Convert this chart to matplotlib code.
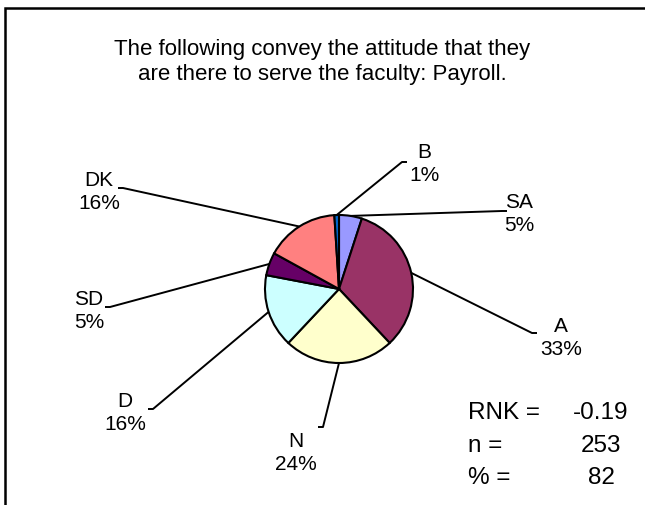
import numpy as np
import matplotlib
matplotlib.use("Agg")
from matplotlib import pyplot as plt

plt.rcParams['font.family'] = ['Liberation Sans', 'DejaVu Sans']

# dados (ordem horaria a partir do topo)
categorias = ['SA', 'A', 'N', 'D', 'SD', 'DK', 'B']
percentuais = [5, 33, 24, 16, 5, 16, 1]
cores = ['#9999FF', '#993366', '#FFFFCC', '#CCFFFF', '#660066', '#FF8080', '#0066CC']
titulo = 'The following convey the attitude that they\nare there to serve the faculty: Payroll.'
estat_rotulos = ['RNK =', 'n =', '% =']
estat_valores = ['-0.19', '253', '82']

# posicoes dos rotulos (pixels) e fim das linhas guia
pos_rotulo = {'SA': (519, 214), 'A': (561, 338), 'N': (296, 453), 'D': (125, 413),
              'SD': (89, 311), 'DK': (99, 192), 'B': (424, 164)}
fim_linha = {'SA': (502, 212), 'A': (532, 334), 'N': (323, 428), 'D': (153, 410),
             'SD': (110, 308), 'DK': (123, 189), 'B': (402, 163)}

W, H = 645, 506
fig = plt.figure(figsize=(W / 100, H / 100), dpi=100)
ax = fig.add_axes([0, 0, 1, 1])

centro = (339, 290)
raio = 74
wedges, _ = ax.pie(percentuais, colors=cores, startangle=-90, counterclock=True,
                   center=centro, radius=raio,
                   wedgeprops=dict(edgecolor='black', linewidth=1.5))
ax.set_xlim(0, W)
ax.set_ylim(H, 0)
ax.set_aspect('equal')
ax.axis('off')

for w, cat, pct in zip(wedges, categorias, percentuais):
    ang = np.deg2rad((w.theta1 + w.theta2) / 2)
    x0 = centro[0] + raio * np.cos(ang)
    y0 = centro[1] + raio * np.sin(ang)
    x1, y1 = fim_linha[cat]
    tx, ty = pos_rotulo[cat]
    tick = 5 if tx > x1 else -5
    ax.plot([x0, x1, x1 + tick], [y0, y1, y1], color='black', lw=1.4,
            solid_capstyle='butt')
    ax.text(tx, ty, f'{cat}\n{pct}%', ha='center', va='center',
            multialignment='center', fontsize=15, linespacing=1.3)

ax.text(322, 62, titulo, ha='center', va='center', fontsize=16,
        linespacing=1.25)

ys = [413, 446, 478]
for lab, val, y in zip(estat_rotulos, estat_valores, ys):
    ax.text(468, y, lab, ha='left', va='center', fontsize=17.5)
    ax.text(601, y, val, ha='center', va='center', fontsize=17.5)

# moldura (so esquerda e topo aparecem)
ax.plot([5, 5, W + 10], [H + 10, 8.5, 8.5], color='black', lw=1.8,
        solid_joinstyle='miter')

fig.savefig('out.png', dpi=100)
